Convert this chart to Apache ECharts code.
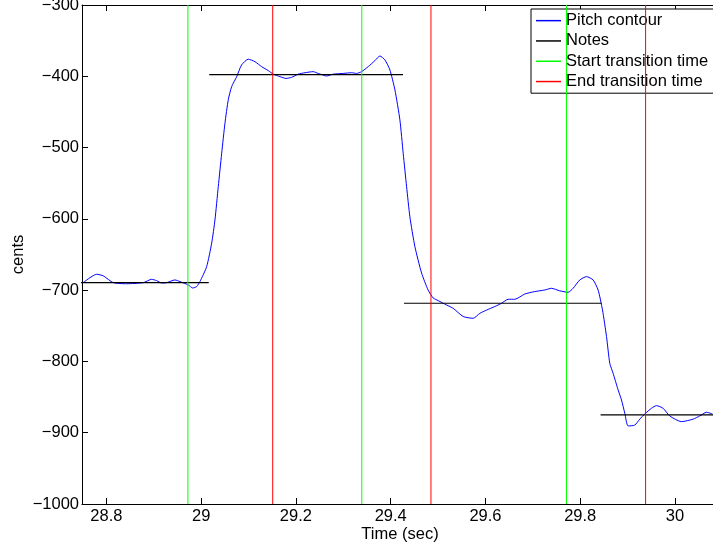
<!DOCTYPE html>
<html>
<head>
<meta charset="utf-8">
<script src="https://cdn.jsdelivr.net/npm/echarts@6/dist/echarts.min.js"></script>
<style>
  html, body { margin: 0; padding: 0; background: #fff; }
  #chart { width: 713px; height: 548px; }
</style>
</head>
<body>
<div id="chart"></div>
<script>
// pitch contour (time in sec, pitch in cents)
const timeSec = [
  28.7500, 28.7795, 28.7934, 28.8145, 28.8428, 28.8778, 28.8955, 28.9061, 28.9166, 28.9272,
  28.9447, 28.9553, 28.9728, 28.9821, 28.9905, 28.9975, 29.0116, 29.0222, 29.0291, 29.0361,
  29.0433, 29.0502, 29.0572, 29.0643, 29.0749, 29.0854, 29.0994, 29.1135, 29.1276, 29.1416,
  29.1521, 29.1662, 29.1789, 29.1909, 29.2048, 29.2190, 29.2365, 29.2470, 29.2647, 29.2787,
  29.2998, 29.3175, 29.3280, 29.3386, 29.3525, 29.3667, 29.3772, 29.3878, 29.3983, 29.4089,
  29.4194, 29.4264, 29.4336, 29.4405, 29.4511, 29.4652, 29.4791, 29.4897, 29.5002, 29.5180,
  29.5319, 29.5530, 29.5741, 29.5882, 29.6023, 29.6198, 29.6340, 29.6479, 29.6620, 29.6831,
  29.7042, 29.7253, 29.7394, 29.7570, 29.7745, 29.7850, 29.7991, 29.8133, 29.8272, 29.8378,
  29.8470, 29.8555, 29.8624, 29.8694, 29.8800, 29.8871, 29.8941, 29.9010, 29.9152, 29.9257,
  29.9363, 29.9504, 29.9610, 29.9749, 29.9890, 30.0137, 30.0382, 30.0523, 30.0664, 30.0791
];
const pitchCents = [
  -690, -677.7, -680, -689.5, -691, -689.5, -684.8, -686.7, -690, -689.5,
  -685.7, -688, -692.7, -697, -695, -688, -667, -634, -601.6, -554.8,
  -508, -466, -433, -414.6, -400.6, -384, -376, -379.5, -386.5, -392,
  -397, -400.5, -403, -401.5, -397, -395, -393.5, -396, -399.6, -397,
  -396, -395, -396, -393.5, -386.5, -378, -371.5, -377, -391, -419,
  -461, -508, -555, -597, -639, -676, -700, -711, -714.7, -720.8,
  -725.5, -737, -739.5, -732.5, -728, -723, -718.4, -712.8, -712.8, -705.4,
  -702, -699.8, -697.4, -701, -703, -697.4, -685.7, -681, -685.7, -699.8,
  -727.8, -765, -802.6, -816.6, -840, -854, -872.7, -890.5, -889.3, -881,
  -873.7, -865.7, -862, -865.7, -876.5, -884.5, -881, -876.5, -871.3, -873.7
];

// notes
const noteStart = [28.70, 29.017, 29.428, 29.843];
const noteEnd   = [29.016, 29.426, 29.845, 30.15];
const noteCents = [-689.5, -397.7, -718.4, -875];

// transition times
const startTransitions = [28.972, 29.339, 29.771];
const endTransitions   = [29.151, 29.485, 29.938];

// axes
const xTicks = [28.8, 29, 29.2, 29.4, 29.6, 29.8, 30];
const xMin = 28.7485, xMax = 30.0908;
const yMin = -1000, yMax = -300, yStep = 100;

const FONT = 'Liberation Sans, Arial, Helvetica, sans-serif';

// segments separated by '-' so one series draws several pieces
function segments(xs0, xs1, ys0, ys1) {
  const out = [];
  xs0.forEach((x, i) => {
    if (i > 0) out.push('-');
    out.push([x, ys0[i]], [xs1[i], ys1[i]]);
  });
  return out;
}

const chart = echarts.init(document.getElementById('chart'), null, { renderer: 'canvas' });

const option = {
  animation: false,
  backgroundColor: '#fff',
  textStyle: { fontFamily: FONT },
  grid: { left: 82, top: 5, width: 636, bottom: 44, outerBoundsMode: 'none', containLabel: false },
  legend: {
    orient: 'vertical',
    left: 531,
    top: 9,
    padding: [1.5, 6, 1.5, 5],
    itemGap: 0,
    itemWidth: 25,
    itemHeight: 1.5,
    icon: 'rect',
    selectedMode: false,
    backgroundColor: '#fff',
    borderColor: '#000',
    borderWidth: 1,
    borderRadius: 0,
    textStyle: { fontFamily: FONT, fontSize: 16.5, color: '#000', lineHeight: 20.3 },
    data: ['Pitch contour', 'Notes', 'Start transition time', 'End transition time']
  },
  xAxis: [{
    type: 'value',
    min: xMin,
    max: xMax,
    name: 'Time (sec)',
    nameLocation: 'middle',
    nameGap: 22,
    nameMoveOverlap: false,
    nameTextStyle: { fontFamily: FONT, fontSize: 16.5, color: '#000' },
    axisLine: { show: true, onZero: false, lineStyle: { color: '#000', width: 1 } },
    axisTick: { inside: true, length: 6, lineStyle: { color: '#000' }, customValues: xTicks },
    axisLabel: { fontFamily: FONT, fontSize: 16.5, color: '#000', margin: 4, customValues: xTicks,
                 formatter: v => String(v) },
    splitLine: { show: false }
  }, {
    type: 'value',
    position: 'top',
    min: xMin,
    max: xMax,
    axisLine: { show: true, onZero: false, lineStyle: { color: '#000', width: 1 } },
    axisTick: { inside: true, length: 6, lineStyle: { color: '#000' }, customValues: xTicks },
    axisLabel: { show: false },
    splitLine: { show: false }
  }],
  yAxis: {
    type: 'value',
    min: yMin,
    max: yMax,
    interval: yStep,
    name: 'cents',
    nameLocation: 'middle',
    nameRotate: 90,
    nameGap: 55,
    nameMoveOverlap: false,
    nameTextStyle: { fontFamily: FONT, fontSize: 16.5, color: '#000' },
    axisLine: { show: true, onZero: false, lineStyle: { color: '#000', width: 1 } },
    axisTick: { inside: true, length: 6, lineStyle: { color: '#000' } },
    axisLabel: { fontFamily: FONT, fontSize: 16.5, color: '#000', margin: 3,
                 formatter: v => String(v).replace('-', '\u2212') },
    splitLine: { show: false }
  },
  series: [
    {
      name: 'Pitch contour',
      type: 'line',
      data: timeSec.map((t, i) => [t, pitchCents[i]]),
      smooth: 0.2,
      symbol: 'none',
      color: '#0000ff',
      lineStyle: { color: '#0000ff', width: 1 },
      z: 2
    },
    {
      name: 'Notes',
      type: 'line',
      data: segments(noteStart, noteEnd, noteCents, noteCents),
      symbol: 'none',
      color: '#000',
      lineStyle: { color: '#000', width: 1.2 },
      z: 3
    },
    {
      name: 'Start transition time',
      type: 'line',
      data: segments(startTransitions, startTransitions,
                     startTransitions.map(() => yMin), startTransitions.map(() => yMax)),
      symbol: 'none',
      color: '#00ff00',
      lineStyle: { color: '#00ff00', width: 1 },
      z: 4
    },
    {
      name: 'End transition time',
      type: 'line',
      data: segments(endTransitions, endTransitions,
                     endTransitions.map(() => yMin), endTransitions.map(() => yMax)),
      symbol: 'none',
      color: '#ff0000',
      lineStyle: { color: '#ff0000', width: 1 },
      z: 4
    }
  ]
};

chart.setOption(option);
</script>
</body>
</html>
